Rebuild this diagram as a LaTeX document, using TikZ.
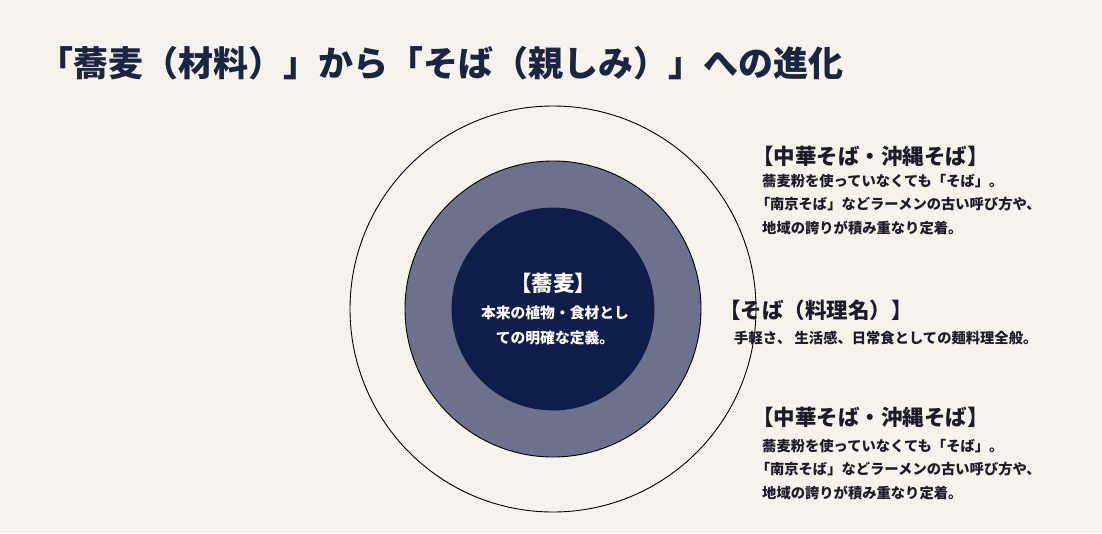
\documentclass[tikz,border=0pt]{standalone}
\usepackage{fontspec}
\setmainfont{Noto Sans CJK JP}
\definecolor{bgc}{HTML}{F5F3EC}
\definecolor{ringc}{HTML}{6C728B}
\definecolor{corec}{HTML}{0F1E48}
\definecolor{titlec}{HTML}{1B2440}
\definecolor{textc}{HTML}{1C1C28}
\tikzset{
  ring/.style={circle, draw=black, line width=0.9pt, inner sep=0},
  headtxt/.style={anchor=west, inner sep=0, text=textc, font=\bfseries\fontsize{21.5}{26}\selectfont},
  bodytxt/.style={anchor=north west, inner sep=0, align=left, text=textc, font=\bfseries\fontsize{14.3}{23.5}\selectfont},
}
\begin{document}
\begin{tikzpicture}[x=1pt,y=-1pt]
\fill[bgc] (0,0) rectangle (1102,533);
\useasboundingbox (0,0) rectangle (1102,533);

\node[anchor=west, inner sep=0, text=titlec, font=\bfseries\fontsize{35}{42}\selectfont] (title) at (38,63) {「蕎麦（材料）」から「そば（親しみ）」への進化};

\node[ring, fill=none, minimum size=406pt] (outer) at (553,309) {};
\node[ring, fill=ringc, minimum size=296pt] (middle) at (553,309) {};
\node[ring, draw=corec, fill=corec, minimum size=202pt] (core) at (553,309) {};

\node[anchor=center, inner sep=0, text=white, font=\bfseries\fontsize{21.5}{26}\selectfont] (coreh) at (553,283) {【蕎麦】};
\node[anchor=center, inner sep=0, align=center, text=white, font=\bfseries\fontsize{14.8}{25}\selectfont] (coreb) at (555,325) {本来の植物・食材とし\\ての明確な定義。};

\node[headtxt] (h1) at (752,156) {【中華そば・沖縄そば】};
\node[bodytxt] (b1) at (762,174) {蕎麦粉を使っていなくても「そば」。\\\hspace*{-0.45em}「南京そば」などラーメンの古い呼び方や、\\地域の誇りが積み重なり定着。};

\node[headtxt] (h2) at (719,310) {【そば（料理名）】};
\node[bodytxt] (b2) at (734,331) {手軽さ、 生活感、日常食としての麺料理全般。};

\node[headtxt] (h3) at (752,417) {【中華そば・沖縄そば】};
\node[bodytxt] (b3) at (762,439) {蕎麦粉を使っていなくても「そば」。\\\hspace*{-0.45em}「南京そば」などラーメンの古い呼び方や、\\地域の誇りが積み重なり定着。};
\end{tikzpicture}
\end{document}
